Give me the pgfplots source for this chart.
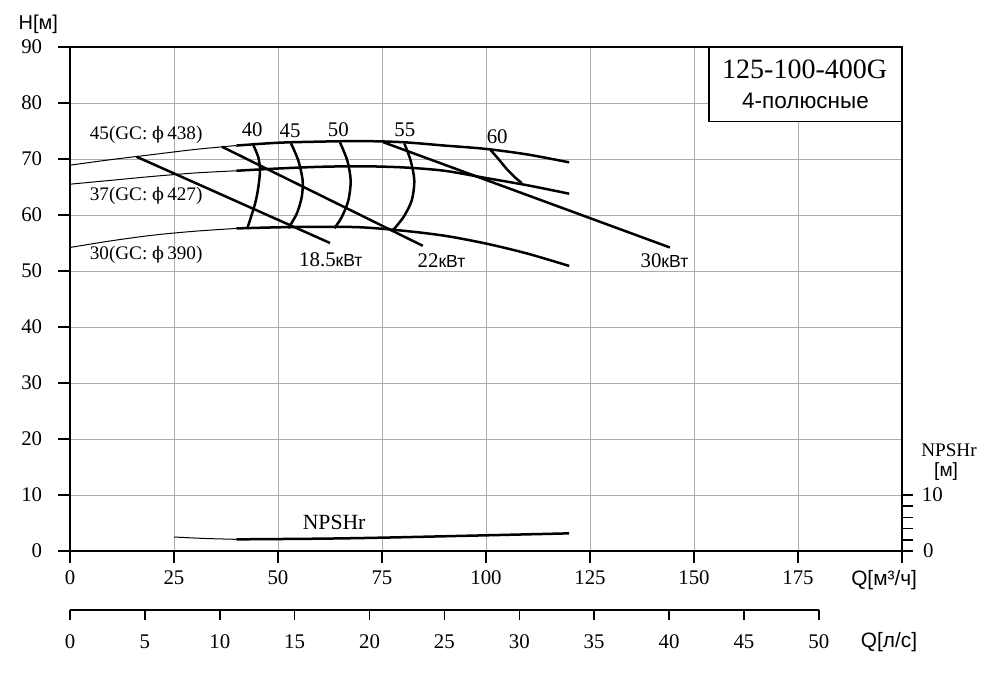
\documentclass[border=0pt]{standalone}
\usepackage{fontspec}
\setmainfont{Liberation Serif}
\newfontfamily\sans{Liberation Sans}
\newfontfamily\dvs{DejaVu Serif}
\usepackage{pgfplots}
\pgfplotsset{compat=1.18}
\newcommand{\phig}{{\dvs\fontsize{10.5}{12}\selectfont ϕ}}
\begin{document}
\begin{tikzpicture}
\useasboundingbox (-42pt,-78pt) rectangle (558pt,330.6pt);
\begin{axis}[
  at={(0,0)}, anchor=south west, scale only axis,
  width=499.2pt, height=302.4pt,
  xmin=0, xmax=200, ymin=0, ymax=90,
  xtick={0,25,...,200}, xticklabels={0,25,50,75,100,125,150,175,{}},
  ytick={0,10,...,90},
  xtick pos=bottom, ytick pos=left,
  tick align=outside, major tick length=7.2pt,
  grid=major, major grid style={gray!65, line width=0.5pt},
  axis line style={line width=0.9pt},
  every tick/.style={black, line width=0.9pt},
  tick label style={font=\fontsize{12.5}{13}\selectfont},
  xticklabel style={yshift=-1pt},
  yticklabel style={xshift=-6pt},
  /pgf/number format/assume math mode=true,
  clip=false,
]
% head curves, thin part
\addplot[black, line width=0.6pt, smooth] coordinates {(0,68.9)(10,69.9)(20,70.8)(30,71.7)(40,72.4)};
\addplot[black, line width=0.6pt, smooth] coordinates {(0,65.5)(10,66.2)(20,66.9)(30,67.5)(40,67.9)};
\addplot[black, line width=0.6pt, smooth] coordinates {(0,54.2)(10,55.4)(20,56.4)(30,57.1)(40,57.6)};
% head curves, thick part
\addplot[black, line width=1.5pt, smooth] coordinates {(40,72.4)(50,72.9)(60,73.1)(70,73.2)(80,73.0)(90,72.4)(100,71.8)(110,70.8)(120,69.4)};
\addplot[black, line width=1.5pt, smooth] coordinates {(40,67.9)(50,68.3)(60,68.6)(70,68.7)(80,68.5)(90,67.9)(100,66.6)(110,65.3)(120,63.8)};
\addplot[black, line width=1.5pt, smooth] coordinates {(40,57.6)(50,57.8)(60,57.9)(70,57.8)(80,57.2)(90,56.3)(100,54.9)(110,53.1)(120,50.9)};
% power lines
\addplot[black, line width=1.5pt] coordinates {(16,70.4)(62.5,55.0)};
\addplot[black, line width=1.5pt] coordinates {(36.5,72.2)(84.8,54.5)};
\addplot[black, line width=1.5pt] coordinates {(75.3,73.0)(144.2,54.2)};
% efficiency arcs
\addplot[black, line width=1.5pt, smooth] coordinates {(44.07,72.49)(45.27,70.29)(45.67,67.91)(45.27,64.94)(44.47,61.97)(42.63,57.63)};
\addplot[black, line width=1.5pt, smooth] coordinates {(53.13,72.79)(54.89,69.70)(55.93,66.13)(55.69,63.16)(54.49,60.20)(52.48,57.63)};
\addplot[black, line width=1.5pt, smooth] coordinates {(64.9,72.96)(66.67,69.70)(67.47,66.13)(66.9,62.57)(65.3,59.59)(63.54,57.63)};
\addplot[black, line width=1.5pt, smooth] coordinates {(80.37,72.79)(81.89,69.70)(82.77,66.13)(82.13,62.57)(80.13,59.59)(77.56,57.22)};
\addplot[black, line width=1.5pt, smooth] coordinates {(101.1,71.6)(103.0,70.0)(105.0,68.2)(107.0,66.7)(108.6,65.7)};
% NPSHr
\addplot[black, line width=0.6pt, smooth] coordinates {(25,2.5)(32,2.25)(40,2.08)};
\addplot[black, line width=1.5pt, smooth] coordinates {(40,2.08)(60,2.2)(75,2.38)(100,2.8)(120,3.15)};

% labels
\node[font=\fontsize{11.5}{12}\selectfont] at (axis cs:18.3,74.3) {45(GC: \phig\,438)};
\node[font=\fontsize{11.5}{12}\selectfont] at (axis cs:18.3,63.4) {37(GC: \phig\,427)};
\node[font=\fontsize{11.5}{12}\selectfont] at (axis cs:18.3,52.9) {30(GC: \phig\,390)};
\node[font=\fontsize{12.5}{13}\selectfont] at (axis cs:43.8,75.2) {40};
\node[font=\fontsize{12.5}{13}\selectfont] at (axis cs:52.9,75.0) {45};
\node[font=\fontsize{12.5}{13}\selectfont] at (axis cs:64.5,75.2) {50};
\node[font=\fontsize{12.5}{13}\selectfont] at (axis cs:80.5,75.2) {55};
\node[font=\fontsize{12.5}{13}\selectfont] at (axis cs:102.7,73.9) {60};
\node[font=\fontsize{12.5}{13}\selectfont] at (axis cs:62.7,52.0) {18.5{\sans\fontsize{10.5}{11}\selectfont кВт}};
\node[font=\fontsize{12.5}{13}\selectfont] at (axis cs:89.3,51.8) {22{\sans\fontsize{10.5}{11}\selectfont кВт}};
\node[font=\fontsize{12.5}{13}\selectfont] at (axis cs:142.9,51.8) {30{\sans\fontsize{10.5}{11}\selectfont кВт}};
\node[font=\fontsize{13}{14}\selectfont] at (axis cs:63.5,5.1) {NPSHr};
% title box
\draw[line width=0.9pt, fill=white] (axis cs:153.6,76.66) rectangle (axis cs:200,90);
\node[font=\fontsize{16.8}{19}\selectfont] at (axis cs:176.6,86.0) {125-100-400G};
\node[font=\sans\fontsize{13.5}{15}\selectfont] at (axis cs:176.8,80.4) {4-полюсные};
% axis titles
\node[font=\sans\fontsize{12}{13}\selectfont] at (axis cs:-7.6,94.0) {H[м]};
\node[font=\sans\fontsize{12.5}{13}\selectfont] at (axis cs:195.7,-5.2) {Q[м³/ч]};
% NPSHr right scale
\pgfplotsinvokeforeach{0,2,4,6,8,10}{\draw[line width=0.9pt] (axis cs:200,#1) -- ++(6.6pt,0);}
\node[font=\fontsize{12.5}{13}\selectfont, anchor=west, inner sep=0pt] at (axis cs:204.7,10) {10};
\node[font=\fontsize{12.5}{13}\selectfont, anchor=west, inner sep=0pt] at (axis cs:205.0,0) {0};
\node[font=\fontsize{11.5}{12}\selectfont] at (axis cs:211.3,18.0) {NPSHr};
\node[font=\sans\fontsize{11.5}{12}\selectfont] at (axis cs:210.6,14.1) {[м]};
\end{axis}
% second flow scale, l/s
\draw[line width=0.9pt] (0,-35.4pt) -- (449.28pt,-35.4pt);
\foreach \l in {0,5,...,50} {
  \draw[line width=0.9pt] (\l*8.9856pt,-35.4pt) -- ++(0,-6pt);
  \node[font=\fontsize{12.5}{13}\selectfont] at (\l*8.9856pt,-54.6pt) {\l};
}
\node[font=\sans\fontsize{12.5}{13}\selectfont] at (491.4pt,-54.6pt) {Q[л/с]};
\end{tikzpicture}
\end{document}
